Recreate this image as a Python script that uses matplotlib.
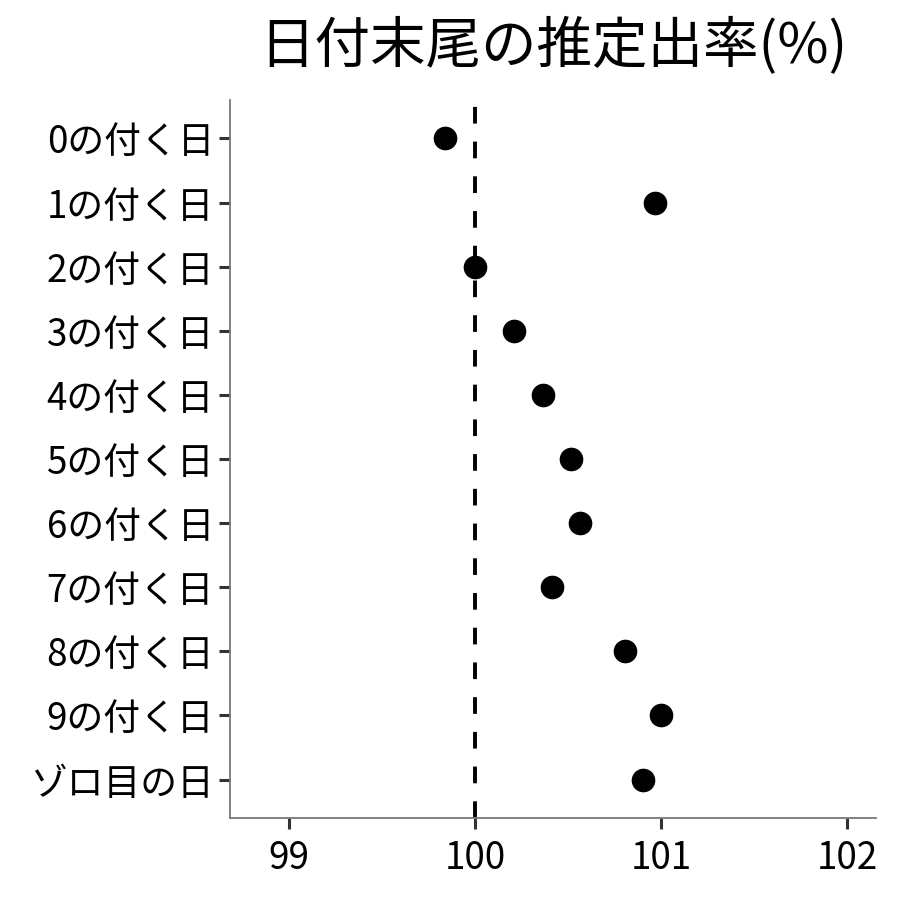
import matplotlib
matplotlib.use("Agg")
from matplotlib import pyplot as plt

plt.rcParams['font.family'] = ['Noto Sans CJK JP', 'DejaVu Sans']
plt.rcParams['lines.scale_dashes'] = False

# 日付末尾ごとの推定出率
labels = ['0の付く日', '1の付く日', '2の付く日', '3の付く日', '4の付く日',
          '5の付く日', '6の付く日', '7の付く日', '8の付く日', '9の付く日', 'ゾロ目の日']
rates = [99.84, 100.97, 100.0, 100.21, 100.365, 100.515, 100.565, 100.415,
         100.805, 101.0, 100.905]
xticks = [99, 100, 101, 102]
baseline = 100

fig = plt.figure(figsize=(9, 9), dpi=100)
ax = fig.add_axes([0.2556, 0.0911, 0.7177, 0.7978])

ypos = list(range(len(labels)))
ax.scatter(rates, ypos, s=290, color='black', zorder=3, linewidths=0)
ax.axvline(baseline, color='black', linewidth=2.8, dashes=(12, 13), zorder=2)

ax.set_yticks(ypos)
ax.set_yticklabels(labels)
ax.set_ylim(len(labels) - 1 + 0.6, -0.6)
ax.set_xticks(xticks)
ax.set_xticklabels([str(v) for v in xticks])
ax.set_xlim(98.683, 102.156)

ax.tick_params(axis='both', length=8, width=2.2, color='#333333',
               labelsize=26.5, labelcolor='black')
ax.tick_params(axis='y', pad=3.5)
ax.tick_params(axis='x', pad=7)
for side in ['top', 'right']:
    ax.spines[side].set_visible(False)
for side in ['left', 'bottom']:
    ax.spines[side].set_color('#777777')
    ax.spines[side].set_linewidth(1.3)

fig.text(0.6144, 0.948, '日付末尾の推定出率(%)', fontsize=40,
         ha='center', va='center')

fig.savefig('out.png', dpi=100)
